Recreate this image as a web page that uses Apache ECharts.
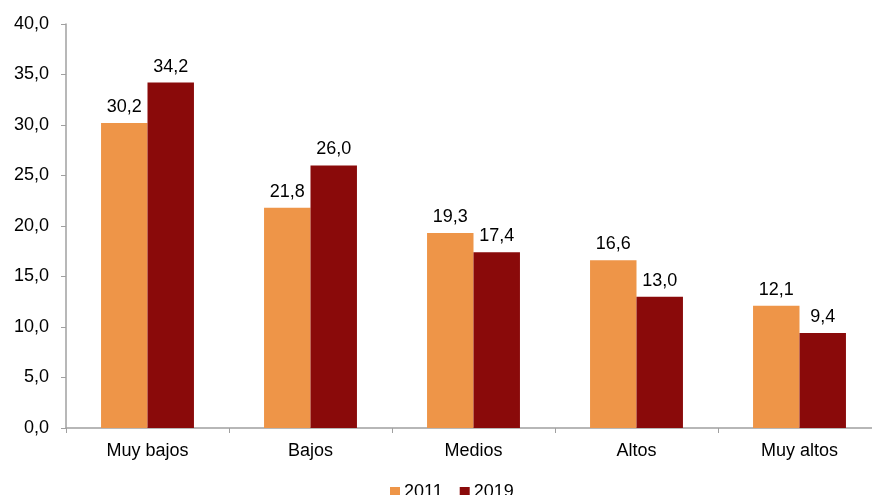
<!DOCTYPE html>
<html><head><meta charset="utf-8">
<script src="https://cdn.jsdelivr.net/npm/echarts@6/dist/echarts.min.js"></script>
<style>html,body{margin:0;padding:0;background:#fff}#c{width:872px;height:495px}</style>
</head><body><div id="c"></div>
<script>
const categories = ["Muy bajos", "Bajos", "Medios", "Altos", "Muy altos"];
const seriesNames = ["2011", "2019"];
const values2011 = [30.2, 21.8, 19.3, 16.6, 12.1];
const values2019 = [34.2, 26.0, 17.4, 13.0, 9.4];
const colors = ["#EE9548", "#8A0A0A"];
const fmt = v => v.toFixed(1).replace('.', ',');
const font = "Liberation Sans, Arial, sans-serif";
const chart = echarts.init(document.getElementById('c'));
const mk = (name, data, color) => ({
  name, type: 'bar', data, barGap: '0%', barCategoryGap: '43%',
  itemStyle: { color },
  label: { show: true, position: 'top', distance: 7, formatter: p => fmt(p.value),
    color: '#000', fontSize: 18, fontFamily: font },
  emphasis: { disabled: true }
});
chart.setOption({
  animation: false,
  textStyle: { fontFamily: font },
  grid: { left: 66, top: 24, bottom: 67, right: -9, containLabel: false, outerBoundsMode: 'none' },
  legend: { bottom: -6, left: 390, padding: 0, itemWidth: 10, itemHeight: 10, itemGap: 17,
    textStyle: { fontSize: 18, color: '#000', fontFamily: font, padding: [0,0,0,-1] },
    data: seriesNames.map((n,i)=>({name:n, icon:'rect', itemStyle:{color:colors[i]}})) },
  xAxis: { type: 'category', data: categories,
    axisLine: { lineStyle: { color: '#A0A0A0', width: 1.5 } },
    axisTick: { show: true, length: 5, lineStyle: { color: '#A0A0A0' } },
    axisLabel: { fontSize: 18, color: '#000', margin: 14, fontFamily: font } },
  yAxis: { type: 'value', min: 0, max: 40, interval: 5,
    splitLine: { show: false },
    axisLine: { show: true, lineStyle: { color: '#A0A0A0', width: 1.5 } },
    axisTick: { show: true, length: 5, lineStyle: { color: '#A0A0A0' } },
    axisLabel: { fontSize: 18, color: '#000', margin: 17, formatter: v => fmt(v), fontFamily: font } },
  series: [mk(seriesNames[0], values2011, colors[0]), mk(seriesNames[1], values2019, colors[1])]
});
</script></body></html>
